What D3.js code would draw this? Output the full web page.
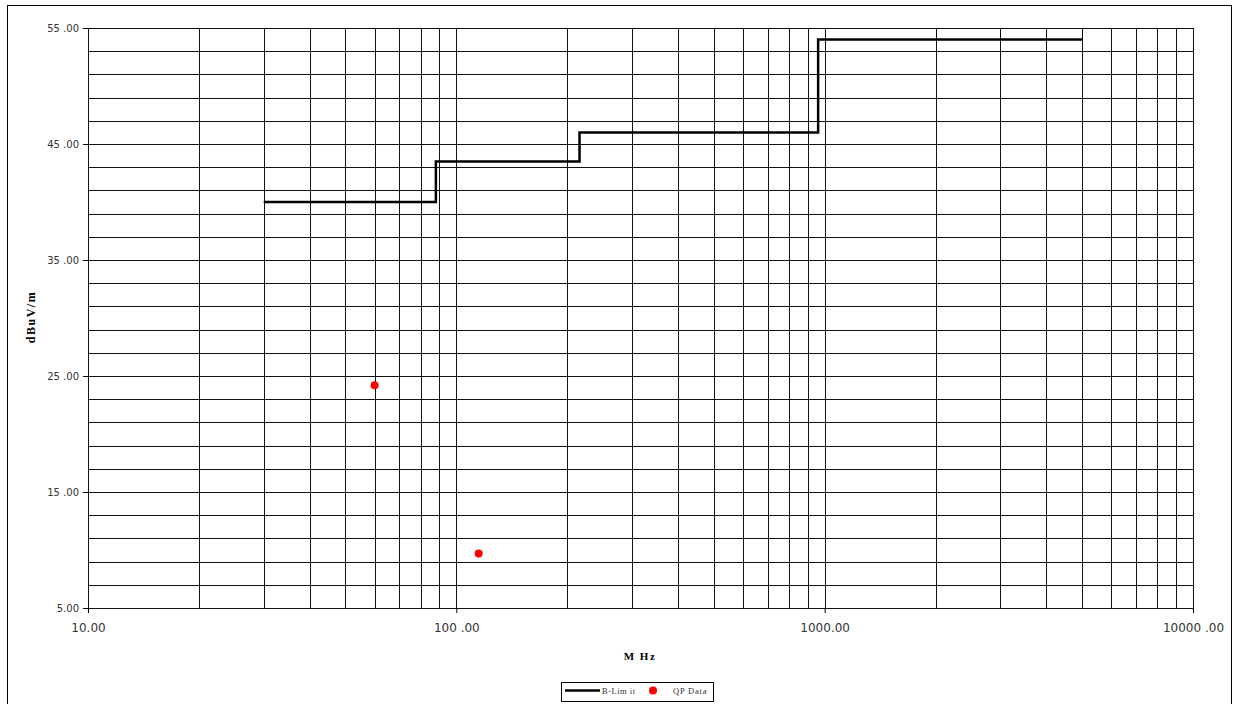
<!DOCTYPE html>
<html>
<head>
<meta charset="utf-8">
<script src="https://cdn.jsdelivr.net/npm/d3@7"></script>
<style>
 body{margin:0;background:#fff}
 svg{display:block}
</style>
</head>
<body>
<svg id="chart"></svg>
<script>
 // limit line (B-Limit), step edges in MHz / dBuV/m
 let limitFreq = [30, 88, 88, 216, 216, 960, 960, 5000]
 let limitLevel = [40, 40, 43.5, 43.5, 46, 46, 54, 54]
 // quasi-peak measurements
 let qpFreq = [60, 115]
 let qpLevel = [24.2, 9.7]
 // tick labels as printed
 let yTicks = [5, 15, 25, 35, 45, 55]
 let yTickText = ["5.00", "15 .00", "25 .00", "35 .00", "45 .00", "55 .00"]
 let xTicks = [10, 100, 1000, 10000]
 let xTickText = ["10.00", "100 .00", "1000.00", "10000 .00"]

 width = 1241
 height = 704
 let m = {left: 88, top: 28, right: 1193, bottom: 608}

 var svg = d3.select("svg").attr("width", width).attr("height", height)

 // outer frame
 svg.append("rect").attr("x", 7.5).attr("y", 5.5).attr("width", 1224).attr("height", 720)
      .attr("fill", "none").attr("stroke", "#000").attr("stroke-width", 1)

 var x = d3.scaleLog().domain([10, 10000]).range([m.left, m.right])
 var y = d3.scaleLinear().domain([5, 55]).range([m.bottom, m.top])

 // grid lines
 let xGrid = []
 for (let dec = 10; dec < 10000; dec *= 10)
      for (let k = 1; k < 10; k++) xGrid.push(dec * k)
 xGrid.push(10000)
 let yGrid = d3.range(5, 56, 2)

 var grid = svg.append("g").attr("shape-rendering", "crispEdges")
 grid.selectAll(".vg").data(xGrid).enter().append("line")
      .attr("x1", d => Math.round(x(d)) + 0.5).attr("x2", d => Math.round(x(d)) + 0.5)
      .attr("y1", m.top).attr("y2", m.bottom)
      .attr("stroke", "#111").attr("stroke-width", 1)
 grid.selectAll(".hg").data(yGrid).enter().append("line")
      .attr("x1", m.left).attr("x2", m.right)
      .attr("y1", d => Math.round(y(d)) + 0.5).attr("y2", d => Math.round(y(d)) + 0.5)
      .attr("stroke", "#111").attr("stroke-width", 1)

 // axes
 var yAxis = svg.append("g").attr("transform", `translate(${m.left},0)`)
      .call(d3.axisLeft(y).tickValues(yTicks).tickSize(5).tickPadding(4)
           .tickFormat((d, i) => yTickText[i]))
 yAxis.select(".domain").remove()
 yAxis.selectAll("text").attr("font-family", "DejaVu Sans").attr("font-size", 10).attr("fill", "#333")
 yAxis.selectAll("line").attr("stroke", "#000")

 var xAxis = svg.append("g").attr("transform", `translate(0,${m.bottom})`)
      .call(d3.axisBottom(x).tickValues(xTicks).tickSize(5).tickPadding(10)
           .tickFormat((d, i) => xTickText[i]))
 xAxis.select(".domain").remove()
 xAxis.selectAll("text").attr("font-family", "DejaVu Sans").attr("font-size", 12).attr("fill", "#333")
 xAxis.selectAll("line").attr("stroke", "#000")

 // axis titles
 svg.append("text").attr("transform", "translate(35,317) rotate(-90)")
      .attr("text-anchor", "middle").attr("font-family", "Liberation Serif")
      .attr("font-weight", "bold").attr("font-size", 12).attr("letter-spacing", 1.5).text("dBuV/m")
 svg.append("text").attr("x", 640).attr("y", 660).attr("text-anchor", "middle")
      .attr("font-family", "Liberation Serif").attr("font-weight", "bold")
      .attr("font-size", 11).attr("letter-spacing", 1.5).text("M Hz")

 // limit line
 let limitData = limitFreq.map((f, i) => ({f: f, v: limitLevel[i]}))
 svg.append("path").datum(limitData)
      .attr("d", d3.line().x(d => x(d.f)).y(d => y(d.v)))
      .attr("fill", "none").attr("stroke", "#000").attr("stroke-width", 2.5)

 // QP points
 svg.selectAll(".qp").data(qpFreq).enter().append("circle")
      .attr("cx", d => x(d)).attr("cy", (d, i) => y(qpLevel[i]))
      .attr("r", 4).attr("fill", "#ff0000")

 // legend
 var lg = svg.append("g")
 lg.append("rect").attr("x", 561.5).attr("y", 682.5).attr("width", 152).attr("height", 19)
      .attr("fill", "#fff").attr("stroke", "#000")
 lg.append("line").attr("x1", 565).attr("x2", 600).attr("y1", 690.5).attr("y2", 690.5)
      .attr("stroke", "#000").attr("stroke-width", 2.5)
 lg.append("text").attr("x", 602).attr("y", 693.5).attr("font-family", "Liberation Serif")
      .attr("font-size", 8.5).attr("letter-spacing", 0.5).attr("fill", "#333").text("B-Lim it")
 lg.append("circle").attr("cx", 653).attr("cy", 690.5).attr("r", 4).attr("fill", "#ff0000")
 lg.append("text").attr("x", 673).attr("y", 693.5).attr("font-family", "Liberation Serif")
      .attr("font-size", 8.5).attr("letter-spacing", 0.8).attr("fill", "#333").text("QP Data")
</script>
</body>
</html>
